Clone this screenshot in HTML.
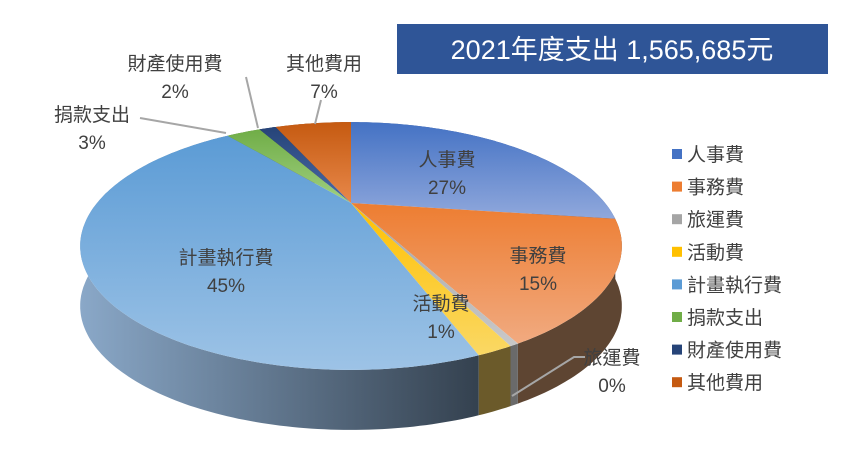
<!DOCTYPE html>
<html><head><meta charset="utf-8"><style>
body{margin:0;background:#fff;}
svg text{font-family:"Liberation Sans","Noto Sans CJK TC",sans-serif;}
</style></head><body>
<svg id="c" width="856" height="460" viewBox="0 0 856 460">
<defs>
<linearGradient id="gside" x1="0" x2="1" y1="0" y2="0"><stop offset="0" stop-color="#8aa8c8"/><stop offset="1" stop-color="#34414f"/></linearGradient>
</defs>
<g id="walls"></g><g id="tops"></g>
<rect x="397" y="24" width="431" height="50" fill="#2f5597"/>
<text x="612" y="59" font-size="27" fill="#fff" text-anchor="middle">2021年度支出 1,565,685元</text>
<g id="labels"></g><g id="legend"></g>
</svg>
<script>
const categories=["人事費","事務費","旅運費","活動費","計畫執行費","捐款支出","財產使用費","其他費用"];
const values=[27.2,15.3,0.4,1.6,44.9,2.8,1.4,6.4];
const pctLabels=["27%","15%","0%","1%","45%","3%","2%","7%"];
const topA=["#4472c4","#ed7d31","#a5a5a5","#ffc000","#5b9bd5","#70ad47","#264478","#c55a11"];
const topB=["#90a8dc","#f1aa80","#c8c8c8","#fad865","#9dc3e6","#a0d080","#4a6aa8","#e8884a"];
const sideC=["#3c5a96","#5e4532","#6a6a6a","#6b5a2a","url(#gside)","#4d7a33","#1a2f55","#8a3f0c"];
const NS="http://www.w3.org/2000/svg";
const cx=351,cy=203,A=254,B=109,P=0.347,D=60;
function proj(t){const u=Math.sin(t),v=-Math.cos(t),s=1/(1-P*v);return [cx+A*u*s,cy+B*v*s];}
const total=values.reduce((a,b)=>a+b,0);
const defs=document.querySelector('defs');
const walls=document.getElementById('walls'),tops=document.getElementById('tops');
let acc=0;const segs=[];
values.forEach((val,i)=>{const a0=acc/total*2*Math.PI;acc+=val;const a1=acc/total*2*Math.PI;segs.push([a0,a1]);});
segs.forEach(([a0,a1],i)=>{
  const n=Math.max(4,Math.ceil((a1-a0)*60));const pts=[];
  for(let k=0;k<=n;k++)pts.push(proj(a0+(a1-a0)*k/n));
  // wall
  let w="M"+pts.map(p=>p[0].toFixed(1)+","+p[1].toFixed(1)).join("L");
  w+="L"+pts.slice().reverse().map(p=>p[0].toFixed(1)+","+(p[1]+D).toFixed(1)).join("L")+"Z";
  const wp=document.createElementNS(NS,'path');wp.setAttribute('d',w);wp.setAttribute('fill',sideC[i]);
  
  
  walls.appendChild(wp);
  const g=document.createElementNS(NS,'linearGradient');g.id='gt'+i;g.setAttribute('x1','0');g.setAttribute('x2','0');g.setAttribute('y1','0');g.setAttribute('y2','1');
  g.innerHTML='<stop offset="0" stop-color="'+topA[i]+'"/><stop offset="1" stop-color="'+topB[i]+'"/>';defs.appendChild(g);
  const tp=document.createElementNS(NS,'path');
  tp.setAttribute('d',"M"+cx+","+cy+"L"+pts.map(p=>p[0].toFixed(1)+","+p[1].toFixed(1)).join("L")+"Z");
  tp.setAttribute('fill','url(#gt'+i+')');
  
  
  tops.appendChild(tp);
});
// labels
const lab=document.getElementById('labels');
const labPos=[[447,166],[538,262],[612,364],[441,310],[226,264],[92,121],[175,70],[324,70]];
function txt(x,y,s,name){const t=document.createElementNS(NS,'text');t.setAttribute('x',x);t.setAttribute('y',y);t.setAttribute('font-size','19');t.setAttribute('fill','#404040');t.setAttribute('text-anchor','middle');t.textContent=s;


lab.appendChild(t);}
categories.forEach((c,i)=>{const [x,y]=labPos[i];txt(x,y,c,'label-name-'+i);txt(x,y+28,pctLabels[i],'label-pct-'+i);});
const lines=[["M585,357L574,357L512,396"],["M140,118L226,133"],["M246,77L258,128"],["M321,100L315,124"]];
lines.forEach((l,i)=>{const p=document.createElementNS(NS,'path');p.setAttribute('d',l[0]);p.setAttribute('stroke','#a6a6a6');p.setAttribute('stroke-width','2');p.setAttribute('fill','none');


lab.appendChild(p);});
// legend
const leg=document.getElementById('legend');
categories.forEach((c,i)=>{const y=155+i*32.6;
  const r=document.createElementNS(NS,'rect');r.setAttribute('x',672);r.setAttribute('y',y-6);r.setAttribute('width',10);r.setAttribute('height',10);r.setAttribute('fill',topA[i]);
  
  
  leg.appendChild(r);
  const t=document.createElementNS(NS,'text');t.setAttribute('x',687);t.setAttribute('y',y+6);t.setAttribute('font-size','19');t.setAttribute('fill','#404040');t.textContent=c;
  
  
  leg.appendChild(t);});
</script>
</body></html>
